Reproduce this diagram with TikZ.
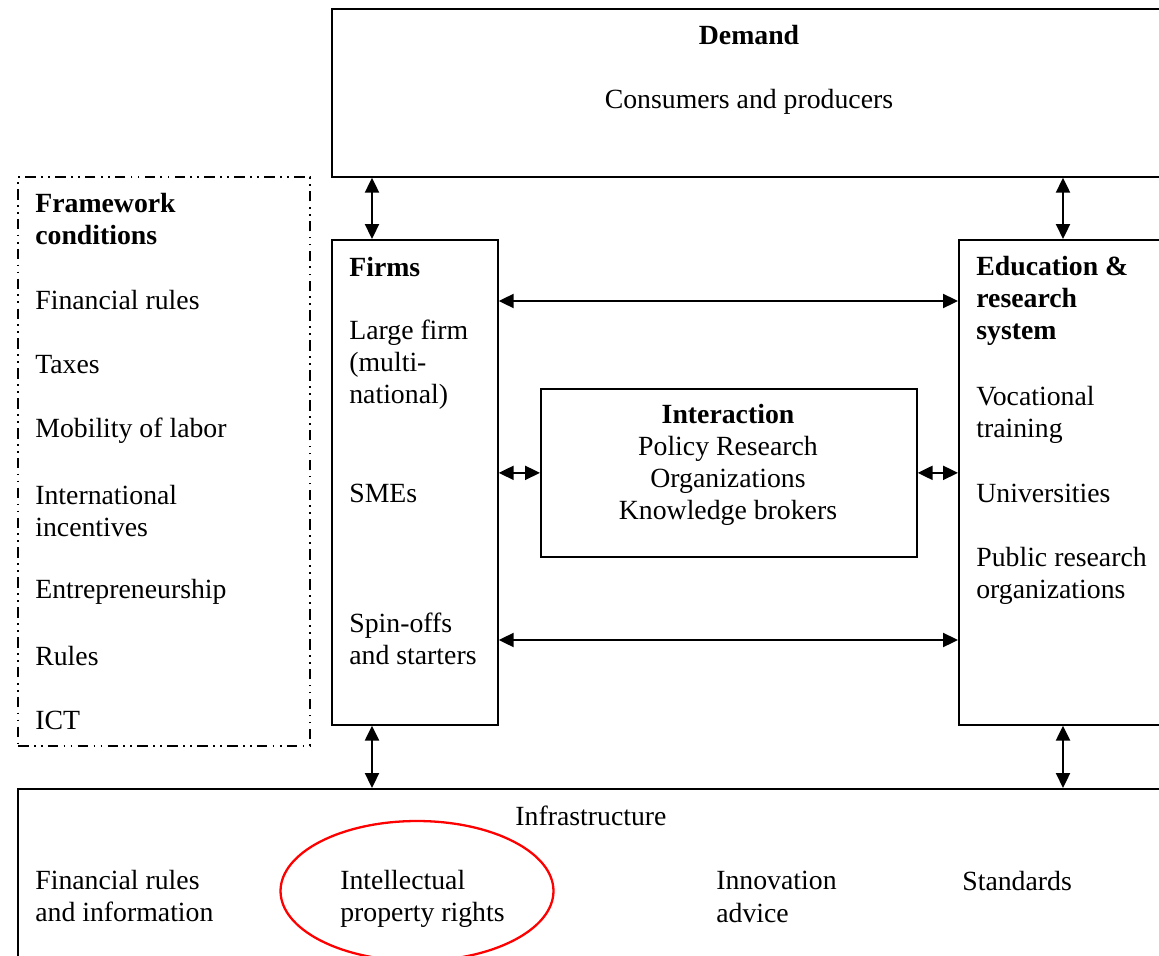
\documentclass[tikz,border=0pt]{standalone}
\usepackage{fontspec}
\setmainfont{Liberation Serif}
\usetikzlibrary{positioning, arrows.meta, shapes.geometric}

\begin{document}
\begin{tikzpicture}[
    x=0.02cm, y=-0.02cm,
    >={Triangle[length=3mm, width=2.8mm]},
    font=\fontsize{15.8}{18.3}\selectfont,
    box/.style={draw=black, line width=1pt, anchor=north west,
                inner sep=0pt},
    frame box/.style={box, line width=1.1pt,
                      dash pattern=on 6pt off 3pt on 1pt off 3pt on 1pt off 3pt},
    label/.style={anchor=west, inner sep=0pt, align=left},
    head/.style={label, font=\fontsize{15.8}{18.3}\selectfont\bfseries},
    link/.style={<->, line width=1.3pt},
    ring/.style={ellipse, draw=red, line width=1.3pt, inner sep=0pt},
]

\useasboundingbox (0,0) rectangle (1159,956);

% =====================================================================
%  BOXES
% =====================================================================
\node[box, minimum width=16.98cm, minimum height=3.36cm] (demand) at (331,8) {};
\node[frame box, minimum width=5.84cm, minimum height=11.38cm] (framework) at (17,176) {};
\node[box, minimum width=3.32cm, minimum height=9.7cm] (firms) at (331,239) {};
\node[box, minimum width=5cm, minimum height=9.7cm] (edu) at (958,239) {};
\node[box, minimum width=7.52cm, minimum height=3.36cm] (inter) at (540,388) {};
\node[box, minimum width=23.26cm, minimum height=3.84cm] (infra) at (17,788) {};

% --- Demand ---
\node[head, anchor=center] (demandTitle) at (749,35) {Demand};
\node[label, anchor=center] (demandText) at (749,102) {Consumers and producers};

% --- Framework conditions ---
\node[head] (fwTitle) at (35,219) {Framework\\conditions};
\foreach \t/\y [count=\i] in {Financial rules/300, Taxes/365, Mobility of labor/431,
        {International\\incentives}/511, Entrepreneurship/592, Rules/656, ICT/720} {
    \node[label] (fw\i) at (35,\y) {\t};
}

% --- Firms ---
\node[head] (firmsTitle) at (349,267) {Firms};
\node[label] (firmLarge) at (349,365) {Large firm\\(multi-\\national)};
\node[label] (firmSme) at (349,493) {SMEs};
\node[label] (firmSpin) at (349,639) {Spin-offs\\and starters};

% --- Education & research system ---
\node[head] (eduTitle) at (976,301) {Education \&\\research\\system};
\node[label] (eduVoc) at (976,415) {Vocational\\training};
\node[label] (eduUni) at (976,493) {Universities};
\node[label] (eduPro) at (976,576) {Public research\\organizations};

% --- Interaction ---
\node[head, anchor=center] (interTitle) at (728,414) {Interaction};
\node[label, anchor=center, align=center] (interText) at (728,481)
    {Policy Research\\Organizations\\Knowledge brokers};

% --- Infrastructure ---
\node[label, anchor=center] (infraTitle) at (591,816) {Infrastructure};
\node[label] (infFin) at (35,896) {Financial rules\\and information};
\node[label] (infIpr) at (340,899) {Intellectual\\property rights};
\node[label] (infInno) at (716,897) {Innovation\\advice};
\node[label] (infStd) at (962,881) {Standards};

% --- Red ring round IPR ---
\node[ring, minimum width=5.46cm, minimum height=2.8cm] (iprRing) at (417,891) {};

% =====================================================================
%  ARROWS
% =====================================================================
\coordinate (lx) at (372,0);
\coordinate (rx) at (1063,0);
\coordinate (ry1) at (0,301);
\coordinate (ry2) at (0,640);

\draw[link] (demand.south -| lx) -- (firms.north -| lx);
\draw[link] (demand.south -| rx) -- (edu.north -| rx);
\draw[link] (firms.east |- ry1) -- (edu.west |- ry1);
\draw[link] (firms.east |- ry2) -- (edu.west |- ry2);
\draw[link] (firms.east |- inter.west) -- (inter.west);
\draw[link] (inter.east) -- (edu.west |- inter.east);
\draw[link] (firms.south -| lx) -- (infra.north -| lx);
\draw[link] (edu.south -| rx) -- (infra.north -| rx);

\end{tikzpicture}
\end{document}
